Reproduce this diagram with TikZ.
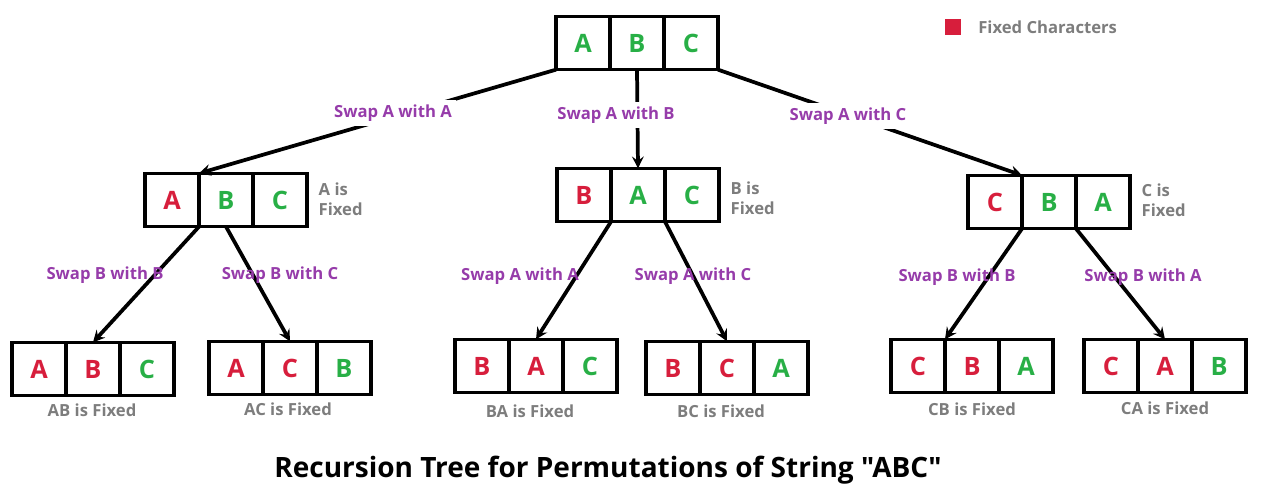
\documentclass[tikz,border=0pt]{standalone}
\usepackage{fontspec}
\setmainfont{Open Sans}[Ligatures=TeXOff]
\usetikzlibrary{positioning}
\definecolor{fixred}{RGB}{215,30,60}
\definecolor{freegreen}{RGB}{40,175,70}
\definecolor{swappurple}{RGB}{150,60,170}
\definecolor{notegray}{RGB}{125,125,125}
\begin{document}
\begin{tikzpicture}
[x=0.75pt,y=0.75pt,
 cell/.style={draw=black,line width=2.6pt,minimum width=40.5pt,minimum height=40pt,inner sep=0pt,outer sep=0pt,font=\fontsize{19}{21}\selectfont\bfseries},
 fix/.style={cell,text=fixred},
 free/.style={cell,text=freegreen},
 swap/.style={text=swappurple,font=\fontsize{12.5}{14}\selectfont\bfseries},
 note/.style={text=notegray,font=\fontsize{12.5}{15}\selectfont\bfseries,align=left},
 link/.style={line width=2.8pt,->,>=stealth}]
\useasboundingbox (0,0) rectangle (1274,-502);
% root
\node[free] (r1) at (583,-43) {A};
\node[free] (r2) [right=0pt of r1] {B};
\node[free] (r3) [right=0pt of r2] {C};
% level one
\node[fix]  (a1) at (172,-200) {A};
\node[free] (a2) [right=0pt of a1] {B};
\node[free] (a3) [right=0pt of a2] {C};
\node[fix]  (b1) at (584,-195) {B};
\node[free] (b2) [right=0pt of b1] {A};
\node[free] (b3) [right=0pt of b2] {C};
\node[fix]  (c1) at (995,-202) {C};
\node[free] (c2) [right=0pt of c1] {B};
\node[free] (c3) [right=0pt of c2] {A};
% leaves
\node[fix]  (aa1) at (39,-369) {A};
\node[fix]  (aa2) [right=0pt of aa1] {B};
\node[free] (aa3) [right=0pt of aa2] {C};
\node[fix]  (ac1) at (236,-368) {A};
\node[fix]  (ac2) [right=0pt of ac1] {C};
\node[free] (ac3) [right=0pt of ac2] {B};
\node[fix]  (ba1) at (482,-366) {B};
\node[fix]  (ba2) [right=0pt of ba1] {A};
\node[free] (ba3) [right=0pt of ba2] {C};
\node[fix]  (bc1) at (673,-368) {B};
\node[fix]  (bc2) [right=0pt of bc1] {C};
\node[free] (bc3) [right=0pt of bc2] {A};
\node[fix]  (cb1) at (918,-366) {C};
\node[fix]  (cb2) [right=0pt of cb1] {B};
\node[free] (cb3) [right=0pt of cb2] {A};
\node[fix]  (ca1) at (1111,-366) {C};
\node[fix]  (ca2) [right=0pt of ca1] {A};
\node[free] (ca3) [right=0pt of ca2] {B};
% edges
\draw[link] (r1.south west) -- (a2.north west);
\draw[link] (r2.south) -- (b2.north);
\draw[link] (r3.south east) -- (c2.north west);
\draw[link] (a2.south west) -- (aa2.north);
\draw[link] (a2.south) -- (ac2.north);
\draw[link] (b2.south west) -- (ba2.north);
\draw[link] (b2.south east) -- (bc2.north);
\draw[link] (c2.south west) -- (cb1.north east);
\draw[link] (c2.south east) -- (ca2.north);
% swap labels
\node[swap,fill=white] at (393,-113) {Swap A with A};
\node[swap,fill=white] at (616,-115) {Swap A with B};
\node[swap,fill=white] at (848,-116) {Swap A with C};
\node[swap] at (105,-275) {Swap B with B};
\node[swap] at (280,-275) {Swap B with C};
\node[swap] at (520,-276) {Swap A with A};
\node[swap] at (693,-276) {Swap A with C};
\node[swap] at (957,-277) {Swap B with B};
\node[swap] at (1143,-277) {Swap B with A};
% notes
\node[note,anchor=west] at (314,-199) {A is\\Fixed};
\node[note,anchor=west] at (726,-198) {B is\\Fixed};
\node[note,anchor=west] at (1137,-200) {C is\\Fixed};
\node[note] at (92,-410) {AB is Fixed};
\node[note] at (288,-409) {AC is Fixed};
\node[note] at (530,-411) {BA is Fixed};
\node[note] at (721,-411) {BC is Fixed};
\node[note] at (972,-409) {CB is Fixed};
\node[note] at (1165,-408) {CA is Fixed};
% legend
\node[fill=fixred,minimum size=12.5pt,inner sep=0pt] (key) at (953,-27) {};
\node[note,anchor=west] [right=9pt of key] {Fixed Characters};
% title
\node[font=\fontsize{21}{24}\selectfont\bfseries] at (608,-470) {Recursion Tree for Permutations of String "ABC"};
\end{tikzpicture}
\end{document}
